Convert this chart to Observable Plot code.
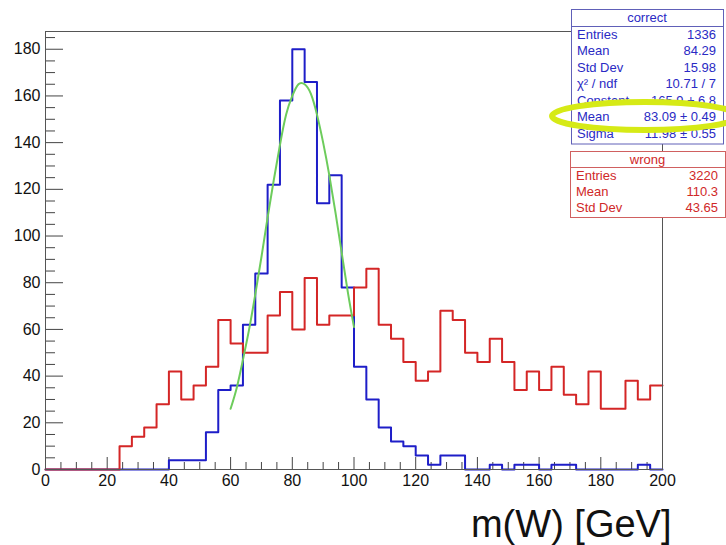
<!DOCTYPE html>
<html><head><meta charset="utf-8">
<script src="https://cdn.jsdelivr.net/npm/d3@7"></script>
<script src="https://cdn.jsdelivr.net/npm/@observablehq/plot@0.6"></script>
<style>
html,body{margin:0;padding:0;background:#fff;}
#chart{width:726px;height:545px;overflow:hidden;}
</style>
</head><body><div id="chart"></div>
<script>
// ---- data ----
const binLow = [0,4,8,12,16,20,24,28,32,36,40,44,48,52,56,60,64,68,72,76,80,84,88,92,96,
                100,104,108,112,116,120,124,128,132,136,140,144,148,152,156,160,164,168,172,176,180,184,188,192,196];
const binWidth = 4;
const correctCounts = [0,0,0,0,0,0,0,0,0,0,
  4,4,4,16,34,36,62,84,122,158,180,166,114,126,78,44,30,18,12,10,6,2,6,6,0,0,2,0,2,2,0,2,2,0,0,0,0,0,2,0];
const wrongCounts = [0,0,0,0,0,0,
  10,14,18,28,42,30,36,44,64,54,50,50,66,76,60,82,62,66,66,78,86,62,56,46,38,42,68,64,50,46,56,46,34,42,34,44,32,28,42,26,26,38,30,36];
const fitX = [60,62,64,66,68,70,72,74,76,78,80,82,84,86,88,90,92,94,96,98,100];
const fitY = [26,35,47,60,75,91,108,124,139,152,160,165,165,161,152,140,126,110,93,76,61];
const yTicks = [0,20,40,60,80,100,120,140,160,180];
const xTicks = [0,20,40,60,80,100,120,140,160,180,200];
const xTitle = "m(W) [GeV]";
const correctName = "correct";
const correctLabels = ["Entries","Mean","Std Dev","χ² / ndf","Constant","Mean","Sigma"];
const correctValues = ["1336","84.29","15.98","10.71 / 7","165.9 ± 6.8","83.09 ± 0.49","11.98 ± 0.55"];
const wrongName = "wrong";
const wrongLabels = ["Entries","Mean","Std Dev"];
const wrongValues = ["3220","110.3","43.65"];

// ---- build tables ----
const stepData = (counts) => {
  const pts = binLow.map((x, i) => ({x, y: counts[i]}));
  pts.push({x: binLow[binLow.length - 1] + binWidth, y: counts[counts.length - 1]});
  return pts;
};
const blueData = stepData(correctCounts);
const redData = stepData(wrongCounts);
const fitData = fitX.map((x, i) => ({x, y: fitY[i]}));
const yMinor = d3.range(0, 188, 5).filter(v => v % 20 !== 0);
const xMinor = d3.range(0, 200, 5).filter(v => v % 20 !== 0);

const W = 726, H = 545;
const mL = 45, mR = 64, mT = 31, mB = 76;
const xPx = (W - mL - mR) / 200;      // px per GeV
const yMax = 187.6;
const yPx = (H - mT - mB) / yMax;     // px per count

const TICKC = "#444";
const plot = Plot.plot({
  width: W, height: H,
  marginLeft: mL, marginRight: mR, marginTop: mT, marginBottom: mB,
  style: {fontFamily: "'Liberation Sans', Arial, Helvetica, sans-serif", fontSize: "16px", background: "#fff", color: "#111"},
  x: {domain: [0, 200]},
  y: {domain: [0, yMax]},
  marks: [
    Plot.ruleY(yTicks, {y: d => d, x1: 0, x2: 18 / xPx, stroke: TICKC, strokeWidth: 1}),
    Plot.ruleY(yMinor, {y: d => d, x1: 0, x2: 10 / xPx, stroke: TICKC, strokeWidth: 1}),
    Plot.ruleX(xTicks, {x: d => d, y1: 0, y2: 12 / yPx, stroke: TICKC, strokeWidth: 1}),
    Plot.ruleX(xMinor, {x: d => d, y1: 0, y2: 7 / yPx, stroke: TICKC, strokeWidth: 1}),
    Plot.axisY({ticks: yTicks, tickSize: 0, tickPadding: 5, label: null, fontSize: 16}),
    Plot.axisX({ticks: xTicks, tickSize: 0, tickPadding: 5, label: null, fontSize: 16}),
    Plot.line(blueData, {x: "x", y: "y", curve: "step-after", stroke: "#1e1ec8", strokeWidth: 2}),
    Plot.line(redData, {x: "x", y: "y", curve: "step-after", stroke: "#d42626", strokeWidth: 2}),
    Plot.line(fitData, {x: "x", y: "y", curve: "natural", stroke: "#6dcc5c", strokeWidth: 2}),
    Plot.frame({stroke: "#555", strokeWidth: 1}),
    Plot.text([xTitle], {frameAnchor: "bottom-right", textAnchor: "end", lineAnchor: "bottom",
      dx: 9, dy: 67, fontSize: 38, fill: "#111"})
  ]
});
document.getElementById("chart").appendChild(plot);

// ---- stat boxes (ROOT style) ----
const svg = d3.select(plot);
function statBox({x, y, w, headerH, rowH, name, labels, values, color, border}) {
  const h = headerH + rowH * labels.length + 2;
  const g = svg.append("g").attr("font-family", "'Liberation Sans', Arial, sans-serif").attr("font-size", 13);
  g.append("rect").attr("x", x + 0.5).attr("y", y + 0.5).attr("width", w).attr("height", h)
    .attr("fill", "#fff").attr("stroke", border).attr("stroke-width", 1);
  g.append("line").attr("x1", x).attr("x2", x + w).attr("y1", y + headerH + 0.5).attr("y2", y + headerH + 0.5)
    .attr("stroke", border);
  g.append("text").attr("x", x + w / 2).attr("y", y + headerH / 2).attr("dy", "0.36em")
    .attr("text-anchor", "middle").attr("fill", color).text(name);
  labels.forEach((lab, i) => {
    const cy = y + headerH + rowH * (i + 0.5);
    g.append("text").attr("x", x + 6).attr("y", cy).attr("dy", "0.36em").attr("text-anchor", "start")
      .attr("fill", color).text(lab);
    g.append("text").attr("x", x + w - 7).attr("y", cy).attr("dy", "0.36em").attr("text-anchor", "end")
      .attr("fill", color).text(values[i]);
  });
}
statBox({x: 571, y: 9, w: 152, headerH: 17, rowH: 16.5, name: correctName,
  labels: correctLabels, values: correctValues, color: "#2a2ac4", border: "#6060b8"});
statBox({x: 570, y: 151, w: 155, headerH: 16, rowH: 16, name: wrongName,
  labels: wrongLabels, values: wrongValues, color: "#d02828", border: "#d06060"});

// highlight ellipse
svg.append("ellipse").attr("cx", 645).attr("cy", 116).attr("rx", 93).attr("ry", 14)
  .attr("fill", "none").attr("stroke", "#d6ea16").attr("stroke-width", 6);
</script>
</body></html>
